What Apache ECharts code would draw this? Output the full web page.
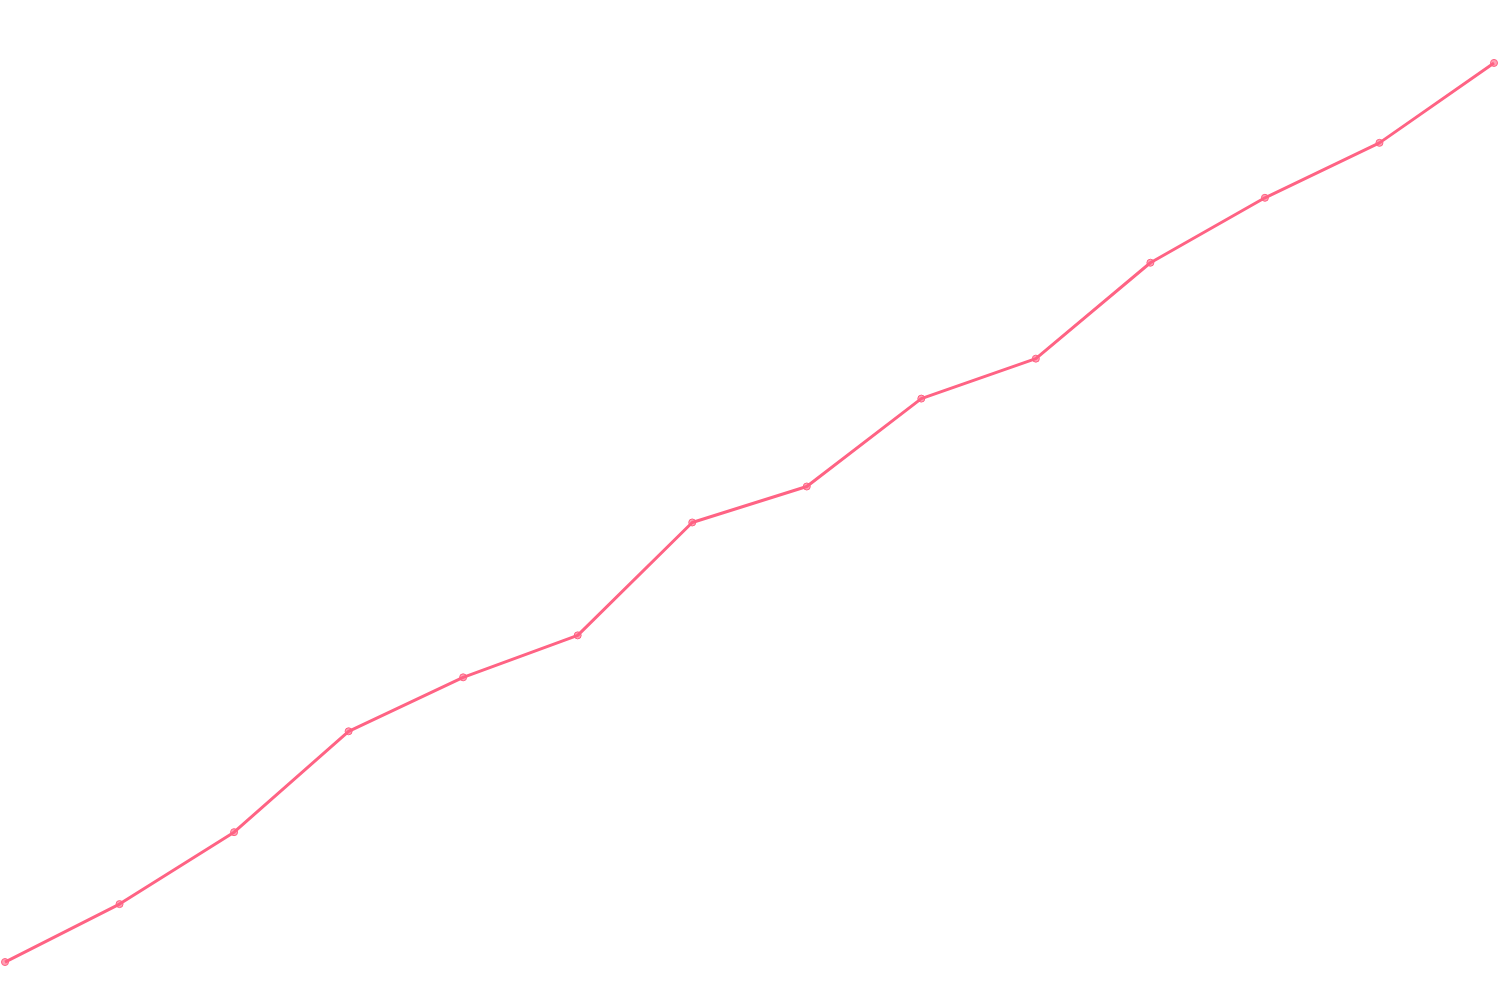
<!DOCTYPE html>
<html>
<head>
<meta charset="utf-8">
<script src="https://cdn.jsdelivr.net/npm/echarts@6/dist/echarts.min.js"></script>
<style>html,body{margin:0;padding:0;background:#fff;}#c{width:1500px;height:1000px;}</style>
</head>
<body>
<div id="c"></div>
<script>
const categories = ['1','2','3','4','5','6','7','8','9','10','11','12','13','14'];
const values = [38, 96, 168, 269, 323, 365, 478, 514, 602, 642, 738, 803, 858, 938];

const chart = echarts.init(document.getElementById('c'), null, {renderer: 'canvas'});
chart.setOption({
  animation: false,
  backgroundColor: '#ffffff',
  grid: {left: 5, right: 6, top: 1, bottom: 0},
  xAxis: {type: 'category', data: categories, boundaryGap: false, show: false},
  yAxis: {type: 'value', min: 0, max: 1000, show: false},
  series: [{
    type: 'line',
    data: values,
    symbol: 'circle',
    symbolSize: 7,
    showSymbol: true,
    clip: false,
    lineStyle: {color: '#ff6384', width: 3},
    itemStyle: {color: 'rgba(255,99,132,0.6)', borderColor: '#ff6384', borderWidth: 1}
  }]
});
</script>
</body>
</html>
